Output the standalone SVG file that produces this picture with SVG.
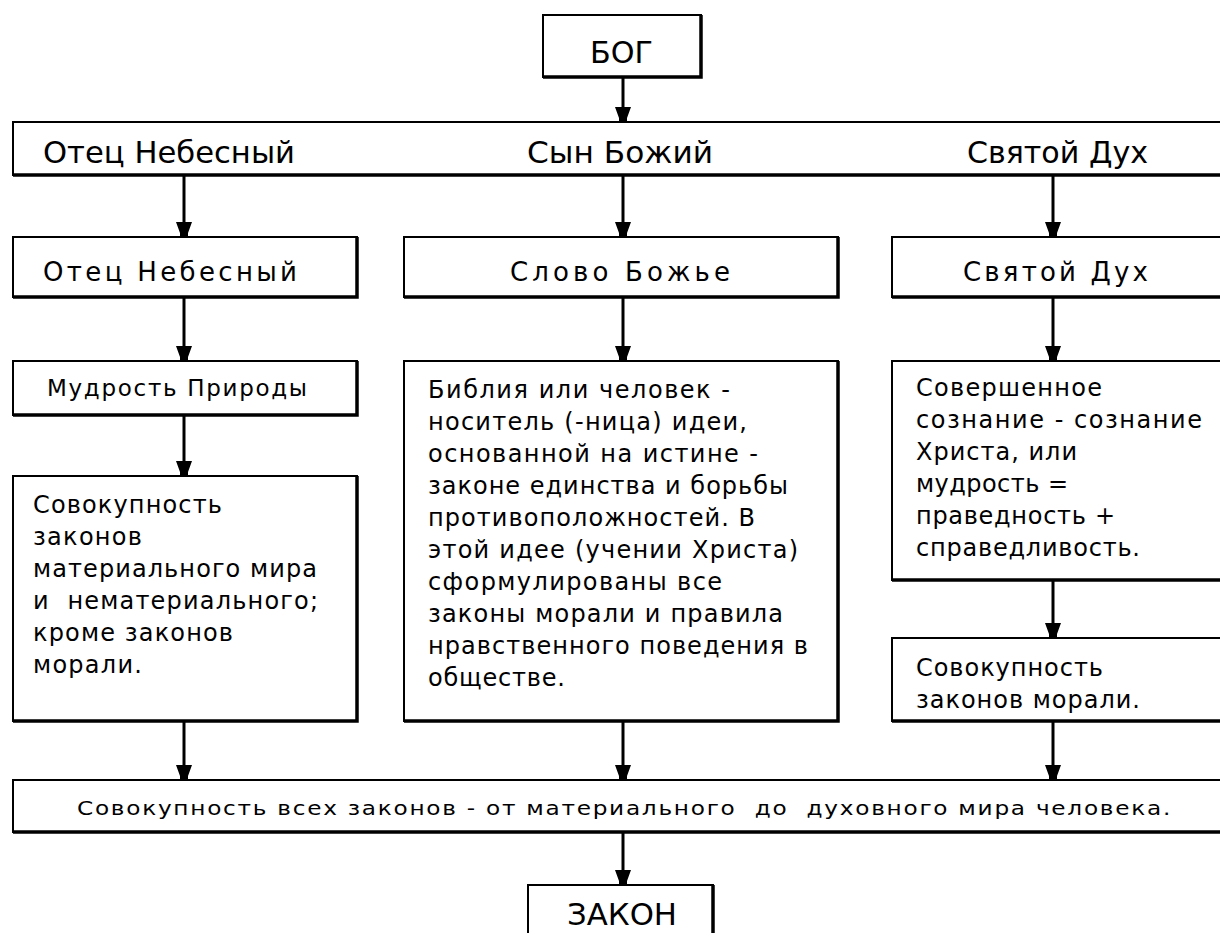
<svg xmlns="http://www.w3.org/2000/svg" width="1220" height="933" viewBox="0 0 1220 933">
<style>
  .bg{fill:#fff}
  .box rect{fill:#fff;stroke:#000;stroke-width:2}
  .box path{fill:none;stroke:#000;stroke-width:3.5}
  text{font-family:"DejaVu Sans","Liberation Sans",sans-serif;fill:#000;white-space:pre}
  .t31{font-size:31px}
  .t30{font-size:30px}
  .t26{font-size:26px}
  .t23{font-size:23px}
  .t24{font-size:24px}
  .t19{font-size:20px}
  .conn line{stroke:#000;stroke-width:3}
</style>
<defs>
  <polygon id="head" points="-8,-15 8,-15 4,-4 4,0 -4,0 -4,-4" fill="#000"/>
</defs>
<rect class="bg" x="0" y="0" width="1220" height="933"/>

<g id="god" class="box">
  <rect x="543" y="15" width="158" height="62"/>
  <path d="M701,15 V77 H543"/>
  <text class="t30" x="590" y="63" textLength="63" lengthAdjust="spacingAndGlyphs">БОГ</text>
</g>

<g id="trinity" class="box">
  <rect x="13" y="122" width="1215" height="53"/>
  <path d="M13,175 H1228"/>
  <text class="t31" x="43" y="163" textLength="252" lengthAdjust="spacingAndGlyphs">Отец Небесный</text>
  <text class="t31" x="527" y="163" textLength="186" lengthAdjust="spacingAndGlyphs">Сын Божий</text>
  <text class="t31" x="967" y="163" textLength="181" lengthAdjust="spacingAndGlyphs">Святой Дух</text>
</g>

<g id="father" class="box">
  <rect x="13" y="237" width="344" height="60"/>
  <path d="M357,237 V297 H13"/>
  <text class="t26" x="43" y="281" textLength="254">Отец Небесный</text>
</g>
<g id="word" class="box">
  <rect x="404" y="237" width="434" height="60"/>
  <path d="M838,237 V297 H404"/>
  <text class="t26" x="510" y="281" textLength="220">Слово Божье</text>
</g>
<g id="spirit" class="box">
  <rect x="892" y="237" width="336" height="60"/>
  <path d="M892,297 H1228"/>
  <text class="t26" x="963" y="281" textLength="185">Святой Дух</text>
</g>

<g id="nature" class="box">
  <rect x="13" y="361" width="344" height="54"/>
  <path d="M357,361 V415 H13"/>
  <text class="t23" x="47" y="396" textLength="260">Мудрость Природы</text>
</g>

<g id="laws-material" class="box">
  <rect x="13" y="476" width="344" height="245"/>
  <path d="M357,476 V721 H13"/>
  <text class="t24" x="33" y="513" textLength="189">Совокупность</text>
  <text class="t24" x="33" y="545" textLength="109">законов</text>
  <text class="t24" x="33" y="577" textLength="284">материального мира</text>
  <text class="t24" x="33" y="609" textLength="285">и  нематериального;</text>
  <text class="t24" x="33" y="641" textLength="200">кроме законов</text>
  <text class="t24" x="33" y="673" textLength="109">морали.</text>
</g>

<g id="bible" class="box">
  <rect x="404" y="361" width="434" height="360"/>
  <path d="M838,361 V721 H404"/>
  <text class="t24" x="428" y="398" textLength="302">Библия или человек -</text>
  <text class="t24" x="428" y="430" textLength="319">носитель (-ница) идеи,</text>
  <text class="t24" x="428" y="462" textLength="330">основанной на истине -</text>
  <text class="t24" x="428" y="494" textLength="360">законе единства и борьбы</text>
  <text class="t24" x="428" y="526" textLength="327">противоположностей. В</text>
  <text class="t24" x="428" y="558" textLength="370">этой идее (учении Христа)</text>
  <text class="t24" x="428" y="590" textLength="294">сформулированы все</text>
  <text class="t24" x="428" y="622" textLength="355">законы морали и правила</text>
  <text class="t24" x="428" y="654" textLength="380">нравственного поведения в</text>
  <text class="t24" x="428" y="686" textLength="137">обществе.</text>
</g>

<g id="consciousness" class="box">
  <rect x="892" y="361" width="336" height="219"/>
  <path d="M892,580 H1228"/>
  <text class="t24" x="916" y="396" textLength="186">Совершенное</text>
  <text class="t24" x="916" y="428" textLength="286">сознание - сознание</text>
  <text class="t24" x="916" y="460" textLength="161">Христа, или</text>
  <text class="t24" x="916" y="492" textLength="152">мудрость =</text>
  <text class="t24" x="916" y="524" textLength="199">праведность +</text>
  <text class="t24" x="916" y="556" textLength="224">справедливость.</text>
</g>

<g id="laws-moral" class="box">
  <rect x="892" y="638" width="336" height="83"/>
  <path d="M892,721 H1228"/>
  <text class="t24" x="916" y="676" textLength="187">Совокупность</text>
  <text class="t24" x="916" y="708" textLength="224">законов морали.</text>
</g>

<g id="all-laws" class="box">
  <rect x="13" y="780" width="1215" height="52"/>
  <path d="M13,832 H1228"/>
  <text class="t19" x="77" y="815" textLength="1095" lengthAdjust="spacingAndGlyphs" letter-spacing="1.5">Совокупность всех законов - от материального  до  духовного мира человека.</text>
</g>

<g id="law" class="box">
  <rect x="528" y="885" width="185" height="60"/>
  <path d="M713,885 V945"/>
  <text class="t30" x="567" y="925" textLength="110" lengthAdjust="spacingAndGlyphs">ЗАКОН</text>
</g>

<g id="connectors" class="conn">
  <line x1="623" y1="78" x2="623" y2="110"/><use href="#head" x="623" y="122"/>
  <line x1="184" y1="176" x2="184" y2="225"/><use href="#head" x="184" y="237"/>
  <line x1="623" y1="176" x2="623" y2="225"/><use href="#head" x="623" y="237"/>
  <line x1="1053" y1="176" x2="1053" y2="225"/><use href="#head" x="1053" y="237"/>
  <line x1="184" y1="298" x2="184" y2="349"/><use href="#head" x="184" y="361"/>
  <line x1="623" y1="298" x2="623" y2="349"/><use href="#head" x="623" y="361"/>
  <line x1="1053" y1="298" x2="1053" y2="349"/><use href="#head" x="1053" y="361"/>
  <line x1="184" y1="416" x2="184" y2="464"/><use href="#head" x="184" y="476"/>
  <line x1="1053" y1="581" x2="1053" y2="626"/><use href="#head" x="1053" y="638"/>
  <line x1="184" y1="722" x2="184" y2="768"/><use href="#head" x="184" y="780"/>
  <line x1="623" y1="722" x2="623" y2="768"/><use href="#head" x="623" y="780"/>
  <line x1="1053" y1="722" x2="1053" y2="768"/><use href="#head" x="1053" y="780"/>
  <line x1="623" y1="833" x2="623" y2="873"/><use href="#head" x="623" y="885"/>
</g>
</svg>
